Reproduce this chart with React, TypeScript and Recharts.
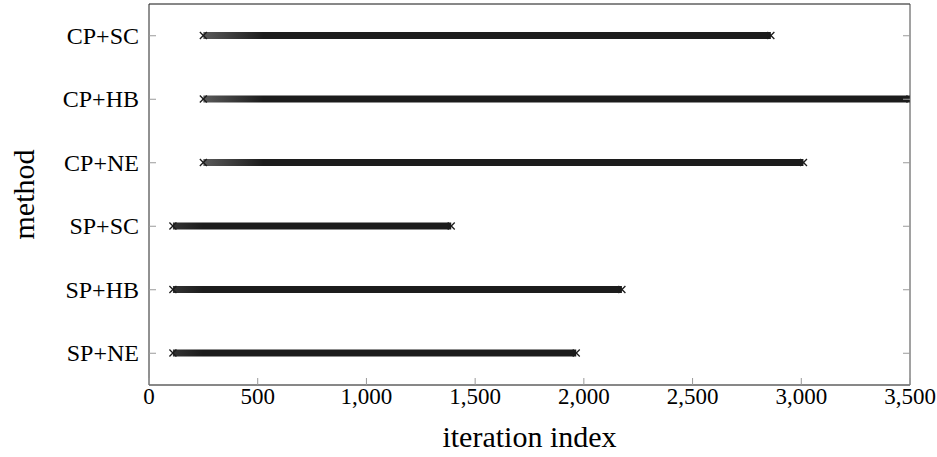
import { ComposedChart, Bar, XAxis, YAxis } from "recharts";

// rows from top to bottom
const methods = ["CP+SC", "CP+HB", "CP+NE", "SP+SC", "SP+HB", "SP+NE"];
// first and last marked iteration of each method
const firstIter = [250, 250, 250, 110, 110, 110];
const lastIter = [2860, 3500, 3010, 1390, 2175, 1965];
const xTicks = [0, 500, 1000, 1500, 2000, 2500, 3000, 3500];

const chartData = methods.map((method, i) => ({
  method,
  span: [firstIter[i], lastIter[i]],
}));

const FONT = "'Liberation Serif', 'Times New Roman', serif";
const TICK_COLOR = "#9a9a9a";

const fmt = (v: number) => v.toLocaleString("en-US");

function BottomTick({ x, y, payload }: any) {
  return (
    <g>
      <line x1={x} x2={x} y1={y} y2={y - 7} stroke={TICK_COLOR} />
      <text
        x={x}
        y={y + 19}
        textAnchor="middle"
        fontFamily={FONT}
        fontSize={23}
        fill="#000"
      >
        {fmt(payload.value)}
      </text>
    </g>
  );
}

function TopTick({ x, y }: any) {
  return <line x1={x} x2={x} y1={y} y2={y + 7} stroke={TICK_COLOR} />;
}

function LeftTick({ x, y, payload }: any) {
  return (
    <g>
      <line x1={x} x2={x + 7} y1={y} y2={y} stroke={TICK_COLOR} />
      <text
        x={x - 10}
        y={y + 8}
        textAnchor="end"
        fontFamily={FONT}
        fontSize={24}
        fill="#000"
      >
        {payload.value}
      </text>
    </g>
  );
}

function RightTick({ x, y }: any) {
  return <line x1={x - 7} x2={x} y1={y} y2={y} stroke={TICK_COLOR} />;
}

// dense row of "x" marks, drawn as a dark band with a cross at each end
function MarkBand(props: any) {
  const { x, y, width, height, index } = props;
  if (width == null || isNaN(width)) return null;
  const cy = y + height / 2;
  const r = 3.5;
  const isCP = index < 3;
  const id = `band-${index}`;
  const cross = (cx: number) => (
    <g stroke="#1c1c1c" strokeWidth={1.3}>
      <line x1={cx - r} y1={cy - r} x2={cx + r} y2={cy + r} />
      <line x1={cx - r} y1={cy + r} x2={cx + r} y2={cy - r} />
    </g>
  );
  return (
    <g>
      <defs>
        <linearGradient
          id={id}
          gradientUnits="userSpaceOnUse"
          x1={x}
          x2={x + (isCP ? 60 : 30)}
          y1={0}
          y2={0}
        >
          <stop offset="0%" stopColor={isCP ? "#5a5a5a" : "#333"} />
          <stop offset="100%" stopColor="#1c1c1c" />
        </linearGradient>
      </defs>
      <rect x={x} y={cy - r} width={width} height={2 * r} fill={`url(#${id})`} />
      {cross(x)}
      {cross(x + width)}
    </g>
  );
}

export default function App() {
  return (
    <div style={{ position: "absolute", left: 0, top: 0, background: "#fff" }}>
      <ComposedChart
        width={937}
        height={457}
        data={chartData}
        layout="vertical"
        margin={{ top: 0, right: 0, bottom: 0, left: 0 }}
      >
        <XAxis
          type="number"
          dataKey="span"
          domain={[0, 3500]}
          ticks={xTicks}
          allowDataOverflow
          height={72}
          tickSize={0}
          tickMargin={0}
          tickLine={false}
          axisLine={{ stroke: "#111" }}
          tick={<BottomTick />}
          interval={0}
          label={{
            value: "iteration index",
            position: "insideBottom",
            offset: 10,
            style: { fontFamily: FONT, fontSize: 30, fill: "#000" },
          }}
        />
        <XAxis
          xAxisId="top"
          orientation="top"
          type="number"
          domain={[0, 3500]}
          ticks={xTicks}
          height={4}
          tickSize={0}
          tickMargin={0}
          tickLine={false}
          axisLine={{ stroke: "#111" }}
          tick={<TopTick />}
          interval={0}
        />
        <YAxis
          type="category"
          dataKey="method"
          width={149}
          tickSize={0}
          tickMargin={0}
          tickLine={false}
          axisLine={{ stroke: "#222" }}
          tick={<LeftTick />}
          interval={0}
          label={{
            content: ({ viewBox }: any) => {
              const cx = viewBox.x + 23;
              const cy = viewBox.y + viewBox.height / 2;
              return (
                <text
                  x={cx}
                  y={cy}
                  transform={`rotate(-90 ${cx} ${cy})`}
                  textAnchor="middle"
                  dominantBaseline="central"
                  fontFamily={FONT}
                  fontSize={30}
                  fill="#000"
                >
                  method
                </text>
              );
            },
          }}
        />
        <YAxis
          yAxisId="right"
          orientation="right"
          type="category"
          dataKey="method"
          width={27}
          tickSize={0}
          tickMargin={0}
          tickLine={false}
          axisLine={{ stroke: "#444" }}
          tick={<RightTick />}
          interval={0}
        />
        <Bar
          dataKey="span"
          barSize={7}
          shape={<MarkBand />}
          isAnimationActive={false}
        />
      </ComposedChart>
    </div>
  );
}
